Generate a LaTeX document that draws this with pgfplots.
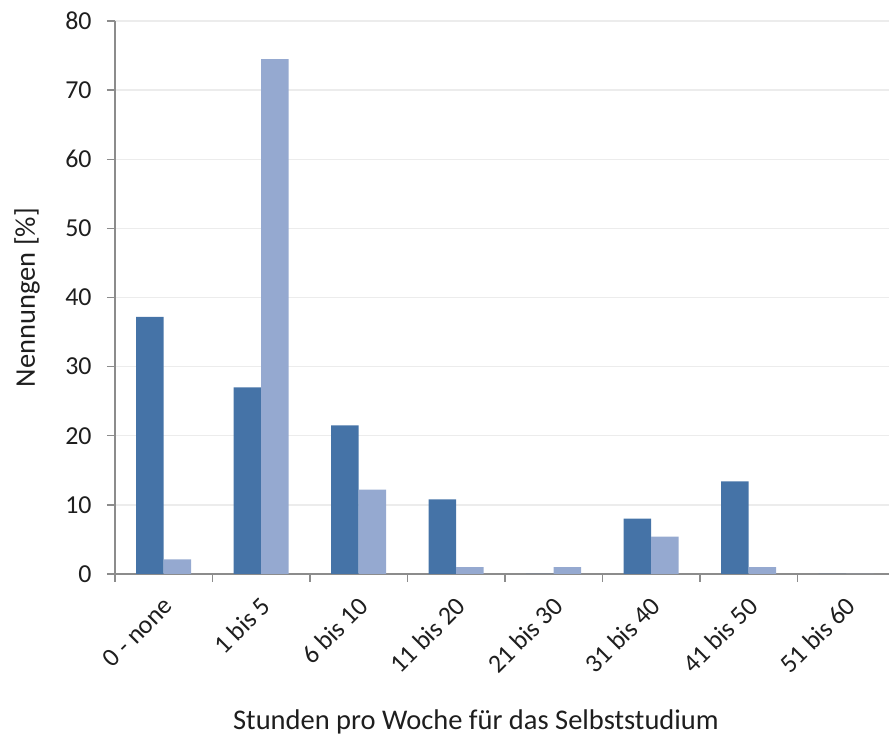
\documentclass[border=0pt]{standalone}
\usepackage{pgfplots}
\pgfplotsset{compat=1.18}
\usepackage{fontspec}
\setmainfont{Carlito}
\definecolor{darkb}{RGB}{69,115,167}
\definecolor{lightb}{RGB}{149,169,208}
\definecolor{gridc}{RGB}{236,236,236}
\definecolor{axc}{RGB}{140,140,140}
\definecolor{txt}{RGB}{30,30,30}
\begin{document}
\begin{tikzpicture}
\begin{axis}[
  width=387bp, height=276.5bp, scale only axis,
  xmin=-0.5, xmax=7.44, ymin=0, ymax=80,
  ybar=0pt, bar width=0.282,
  ytick={0,10,...,80},
  ymajorgrids, grid style={gridc, line width=0.7pt},
  axis lines*=left,
  axis line style={axc, line width=0.7pt},
  tick align=outside,
  major tick length=4bp,
  minor tick length=4bp,
  xtick={0,...,7},
  xticklabels={0 - none,1 bis 5,6 bis 10,11 bis 20,21 bis 30,31 bis 40,41 bis 50,51 bis 60},
  major x tick style={draw=none},
  minor xtick={-0.5,0.5,...,6.5},
  minor x tick style={axc, line width=0.7pt},
  xminorgrids=false,
  y tick style={axc, line width=0.7pt},
  /pgf/number format/assume math mode=true,
  tick label style={font=\fontsize{13}{15}\selectfont, text=txt},
  yticklabel style={inner sep=0pt, xshift=-7.5bp},
  xticklabel style={xshift=2.4bp, yshift=-9.8bp, rotate=45, anchor=east, inner sep=0pt},
  label style={font=\fontsize{14.3}{17}\selectfont, text=txt},
  ylabel={Nennungen [\%]},
  ylabel style={at={(axis description cs:-0.1137,0.5)}, anchor=center, rotate=0},
  xlabel={Stunden pro Woche für das Selbststudium},
  xlabel style={at={(axis description cs:0.4664,-0.2676)}, anchor=center},
]
\addplot[fill=darkb, draw=none] coordinates {(0,37.2) (1,27.0) (2,21.5) (3,10.8) (4,0) (5,8.0) (6,13.4) (7,0)};
\addplot[fill=lightb, draw=none] coordinates {(0,2.1) (1,74.5) (2,12.2) (3,1.0) (4,1.0) (5,5.4) (6,1.0) (7,0)};
\end{axis}
\pgfresetboundingbox
\path[use as bounding box] ([shift={(-57.5bp,-81bp)}]current axis.south west) rectangle ([shift={(0bp,10.5bp)}]current axis.north east);
\end{tikzpicture}
\end{document}
